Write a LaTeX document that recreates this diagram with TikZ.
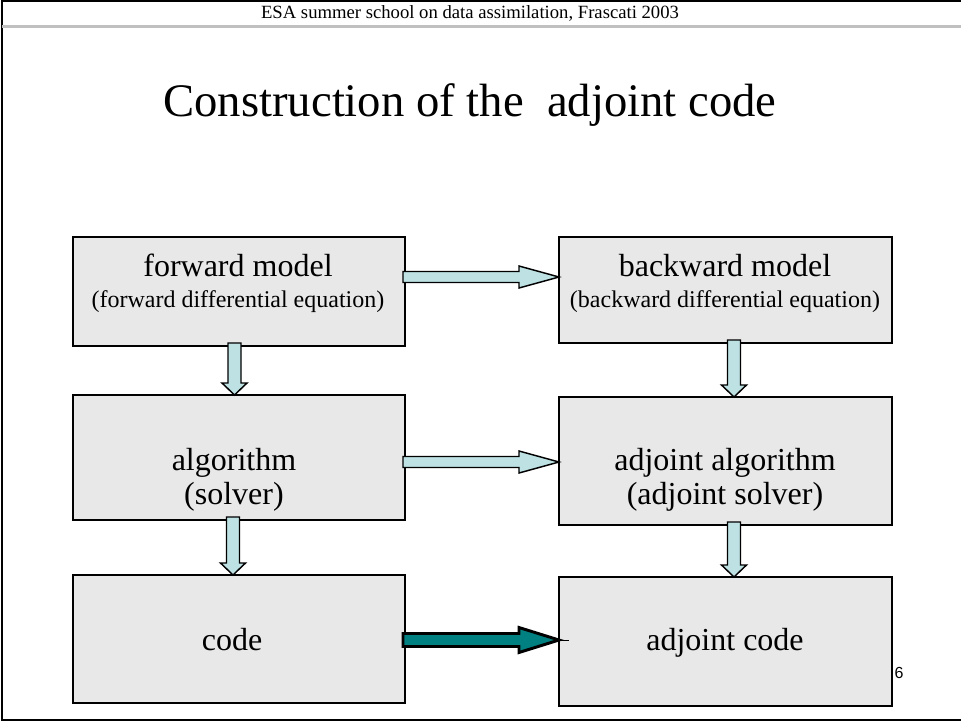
\documentclass[tikz,border=0pt]{standalone}
\usepackage{fontspec}
\setmainfont{Liberation Serif}
\newfontfamily\pagenofont{Liberation Sans}
\usetikzlibrary{calc}

\definecolor{boxgray}{RGB}{232,232,232}
\definecolor{paleblue}{RGB}{190,226,228}
\definecolor{tealarrow}{RGB}{0,128,128}
\definecolor{rulegray}{RGB}{192,192,192}

\tikzset{
  stepbox/.style={draw=black,line width=1.1pt,fill=boxgray,inner sep=0pt,outer sep=0pt},
  colL/.style={minimum width=249pt},
  colR/.style={minimum width=249.75pt},
  arrline/.style={draw=black,line width=1.1pt,line join=miter},
  bigtxt/.style={font=\fontsize{24}{29}\selectfont,anchor=base,inner sep=0pt},
  smalltxt/.style={font=\fontsize{18}{22}\selectfont,anchor=base,inner sep=0pt}
}

% block arrow to the right: [fill]{from}{to}{y}
\newcommand{\rightarr}[4][paleblue]{%
  \coordinate (s) at ($(#2.east |- 0,#4)+(-2,0)$);
  \coordinate (t) at (#3.west |- 0,#4);
  \draw[arrline,fill=#1] ($(s)+(0,-5.5)$) -- ($(t)+(-40,-5.5)$) -- ($(t)+(-40,-11)$) -- (t)
    -- ($(t)+(-40,11)$) -- ($(t)+(-40,5.5)$) -- ($(s)+(0,5.5)$) -- cycle;}
% block arrow downwards: {from}{to}{x}
\newcommand{\downarr}[3]{%
  \coordinate (s) at ($(#1.south -| #3,0)+(0,-3)$);
  \coordinate (t) at (#2.north -| #3,0);
  \draw[arrline,fill=paleblue] ($(s)+(-6.5,0)$) -- ($(t)+(-6.5,-12)$) -- ($(t)+(-12.5,-12)$) -- (t)
    -- ($(t)+(12.5,-12)$) -- ($(t)+(6.5,-12)$) -- ($(s)+(6.5,0)$) -- cycle;}

\begin{document}
\begin{tikzpicture}[x=0.75pt,y=-0.75pt]
  \useasboundingbox (0,0) rectangle (961,722);
  % slide frame and header
  \draw[line width=1.3pt] (961,1) -- (2,1) -- (2,720) -- (961,720);
  \draw[rulegray,line width=2.25pt] (2,26) -- (961,26);
  \node[font=\fontsize{14}{17}\selectfont,anchor=base,inner sep=0pt] (head) at (470,18)
    {ESA summer school on data assimilation, Frascati 2003};
  \node[font=\fontsize{35}{42}\selectfont,anchor=base,inner sep=0pt] (title) at (470,116)
    {Construction of the\ \ adjoint code};

  % boxes
  \node[stepbox,colL,minimum height=81.75pt] (fwd) at (239,291.5) {};
  \node[stepbox,colR,minimum height=79.5pt] (bwd) at (725.5,290) {};
  \node[stepbox,colL,minimum height=93.75pt] (alg) at (239,457.5) {};
  \node[stepbox,colR,minimum height=96pt] (adalg) at (725.5,461) {};
  \node[stepbox,colL,minimum height=96pt] (code) at (239,639) {};
  \node[stepbox,colR,minimum height=96.75pt] (adcode) at (725.5,641.5) {};

  % texts
  \node[bigtxt] (fwdA) at (238,276) {forward model};
  \node[smalltxt] (fwdB) at (238,307) {(forward differential equation)};
  \node[bigtxt] (bwdA) at (725,276) {backward model};
  \node[smalltxt] (bwdB) at (725,307) {(backward differential equation)};
  \node[bigtxt] (algA) at (234,470) {algorithm};
  \node[bigtxt] (algB) at (234,504) {(solver)};
  \node[bigtxt] (adalgA) at (725,470) {adjoint algorithm};
  \node[bigtxt] (adalgB) at (725,504) {(adjoint solver)};
  \node[bigtxt] (codeA) at (232,650) {code};
  \node[bigtxt] (adcodeA) at (725,650) {adjoint code};
  \node[font=\pagenofont\fontsize{12}{14}\selectfont,anchor=base,inner sep=0pt] (pageno) at (899,678) {6};

  % arrows
  \rightarr{fwd}{bwd}{277}
  \rightarr{alg}{adalg}{462}
  \downarr{fwd}{alg}{234.5}
  \downarr{alg}{code}{233}
  \downarr{bwd}{adalg}{734}
  \downarr{adalg}{adcode}{734}
  \coordinate (s) at ($(code.east |- 0,640)+(-2,0)$);
  \coordinate (t) at (adcode.west |- 0,640);
  \draw[line width=2.2pt,line join=miter,fill=tealarrow] ($(s)+(0,-6.5)$) -- ($(t)+(-40,-6.5)$) -- ($(t)+(-40,-12.5)$) -- (t)
    -- ($(t)+(-40,12.5)$) -- ($(t)+(-40,6.5)$) -- ($(s)+(0,6.5)$) -- cycle;
  \draw[line width=0.6pt] (t) -- ++(10,0);
\end{tikzpicture}
\end{document}
